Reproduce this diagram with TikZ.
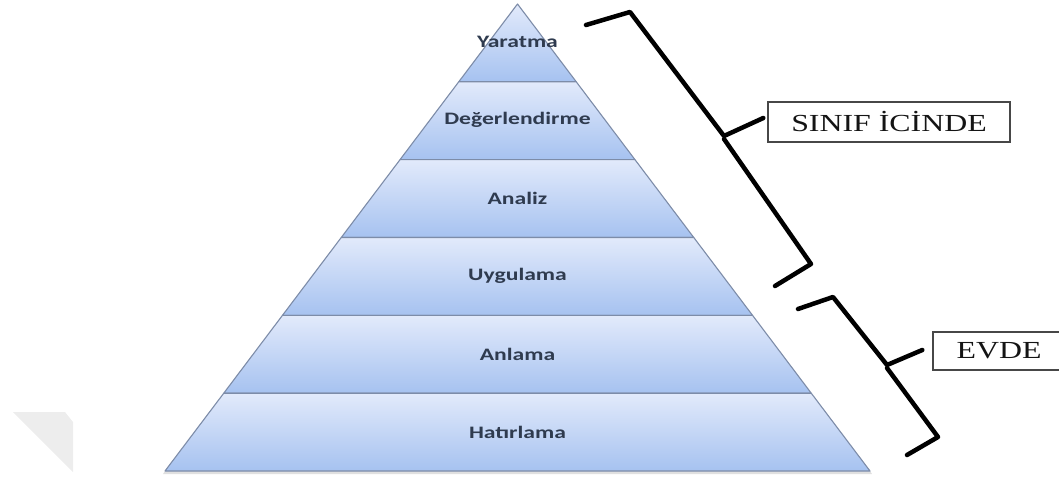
\documentclass[tikz,border=0pt]{standalone}
\usepackage{graphicx}
\usepackage{fontspec}
\setmainfont{Liberation Serif}
\newfontfamily\labfont{Carlito}
\definecolor{topcol}{HTML}{E2EAFB}
\definecolor{botcol}{HTML}{A6C2F0}
\definecolor{edgecol}{HTML}{7D8CA8}
\definecolor{labcol}{HTML}{2F3B4F}
\definecolor{boxcol}{HTML}{474747}
\definecolor{wmcol}{HTML}{EDEDED}
\begin{document}
\begin{tikzpicture}[x=1pt,y=-1pt,
  layer/.style={draw=edgecol, line width=1.1pt, top color=topcol, bottom color=botcol, line join=round},
  lab/.style={font=\labfont\bfseries\fontsize{17.5}{20}\selectfont, text=labcol, inner sep=0pt},
  bracestroke/.style={line width=4.5pt, line cap=round, line join=round, draw=black},
  tag/.style={draw=boxcol, line width=1.4pt, fill=white, inner sep=0pt, font=\fontsize{24.5}{26}\selectfont, text=black!92}]
\useasboundingbox (0,0) rectangle (1059,481);
\clip (0,0) rectangle (1059,481);
% watermark
\fill[wmcol] (13,412) -- (65,412) -- (73,422) -- (73,472) -- cycle;
% shadow
\fill[black!12] (165,471) -- (870,471) -- (872,474) -- (163,474) -- cycle;
% pyramid layers
\path[layer] (517.5,4) -- (576.25,81.8) -- (458.75,81.8) -- cycle;
\path[layer] (458.75,81.8) -- (576.25,81.8) -- (635,159.7) -- (400,159.7) -- cycle;
\path[layer] (400,159.7) -- (635,159.7) -- (693.75,237.5) -- (341.25,237.5) -- cycle;
\path[layer] (341.25,237.5) -- (693.75,237.5) -- (752.5,315.3) -- (282.5,315.3) -- cycle;
\path[layer] (282.5,315.3) -- (752.5,315.3) -- (811.25,393.2) -- (223.75,393.2) -- cycle;
\path[layer] (223.75,393.2) -- (811.25,393.2) -- (870,471) -- (165,471) -- cycle;
% labels
\node[lab] (l1) at (517.5,42) {\scalebox{1.35}[1]{Yaratma}};
\node[lab] (l2) at (517.5,120) {\scalebox{1.35}[1]{Değerlendirme}};
\node[lab] (l3) at (517.5,198) {\scalebox{1.35}[1]{Analiz}};
\node[lab] (l4) at (517.5,276) {\scalebox{1.35}[1]{Uygulama}};
\node[lab] (l5) at (517.5,354) {\scalebox{1.35}[1]{Anlama}};
\node[lab] (l6) at (517.5,432) {\scalebox{1.35}[1]{Hatırlama}};
% boxes
\node[tag, minimum width=242pt, minimum height=40pt] (sinif) at (889,122) {\scalebox{1.3}[1]{SINIF İCİNDE}};
\node[tag, minimum width=132pt, minimum height=38pt] (evde) at (999,351) {\scalebox{1.3}[1]{EVDE}};
% brace 1
\coordinate (a1) at (586,25);
\coordinate (a2) at (630,12);
\coordinate (a3) at (724,136);
\coordinate (a4) at (724,139);
\coordinate (a5) at (811,264);
\coordinate (a6) at (775,286);
\draw[bracestroke] (a1) -- (a2) -- (a3) -- ([xshift=-4pt,yshift=4pt]sinif.west);
\draw[bracestroke] (a4) -- (a5) -- (a6);
% brace 2
\coordinate (b1) at (798,309);
\coordinate (b2) at (833,297);
\coordinate (b3) at (887,365);
\coordinate (b4) at (887,368);
\coordinate (b5) at (938,437);
\coordinate (b6) at (907,455);
\draw[bracestroke] (b1) -- (b2) -- (b3) -- ([xshift=-10pt,yshift=1pt]evde.west);
\draw[bracestroke] (b4) -- (b5) -- (b6);
\end{tikzpicture}
\end{document}
